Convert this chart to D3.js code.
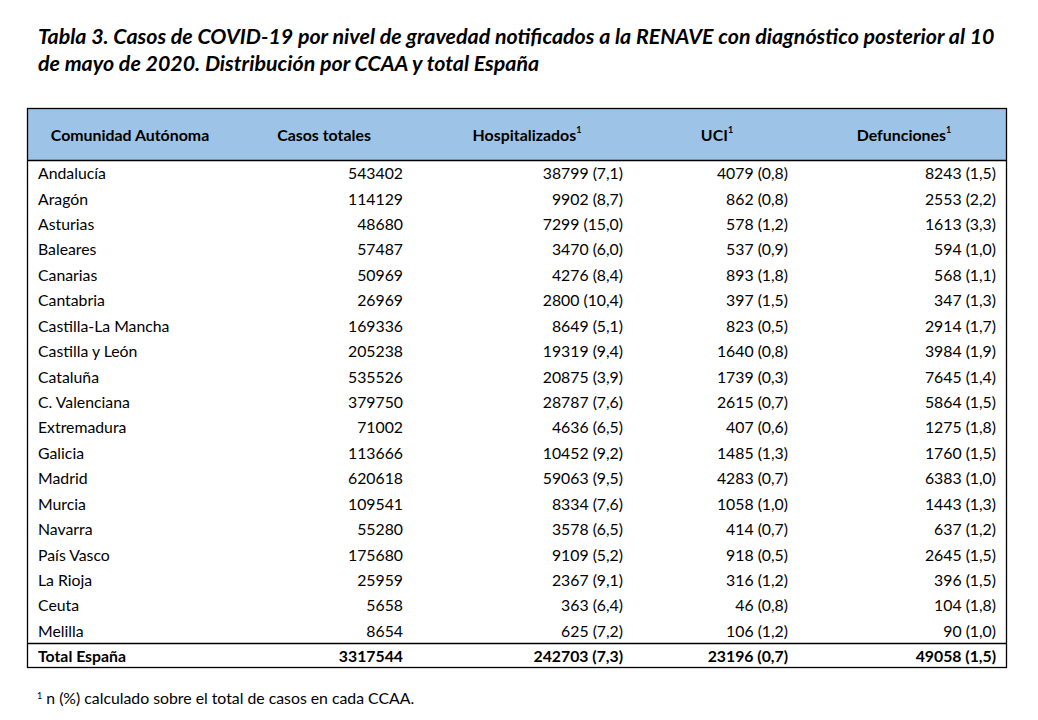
<!DOCTYPE html>
<html><head><meta charset="utf-8">
<script src="https://cdn.jsdelivr.net/npm/d3@7"></script>
<style>
body{margin:0;background:#fff;}
svg{display:block;font-family:Lato,"Open Sans",sans-serif;}
</style></head>
<body><svg id="c" width="1038" height="720"></svg>
<script>
const titleLines = [
  "Tabla 3. Casos de COVID-19 por nivel de gravedad notificados a la RENAVE con diagnóstico posterior al 10",
  "de mayo de 2020. Distribución por CCAA y total España"
];
const headers = ["Comunidad Autónoma", "Casos totales", "Hospitalizados¹", "UCI¹", "Defunciones¹"];
const regions = ["Andalucía","Aragón","Asturias","Baleares","Canarias","Cantabria","Castilla-La Mancha","Castilla y León","Cataluña","C. Valenciana","Extremadura","Galicia","Madrid","Murcia","Navarra","País Vasco","La Rioja","Ceuta","Melilla"];
const casos = [543402,114129,48680,57487,50969,26969,169336,205238,535526,379750,71002,113666,620618,109541,55280,175680,25959,5658,8654];
const hosp = [38799,9902,7299,3470,4276,2800,8649,19319,20875,28787,4636,10452,59063,8334,3578,9109,2367,363,625];
const hospPct = [7.1,8.7,15.0,6.0,8.4,10.4,5.1,9.4,3.9,7.6,6.5,9.2,9.5,7.6,6.5,5.2,9.1,6.4,7.2];
const uci = [4079,862,578,537,893,397,823,1640,1739,2615,407,1485,4283,1058,414,918,316,46,106];
const uciPct = [0.8,0.8,1.2,0.9,1.8,1.5,0.5,0.8,0.3,0.7,0.6,1.3,0.7,1.0,0.7,0.5,1.2,0.8,1.2];
const defs = [8243,2553,1613,594,568,347,2914,3984,7645,5864,1275,1760,6383,1443,637,2645,396,104,90];
const defPct = [1.5,2.2,3.3,1.0,1.1,1.3,1.7,1.9,1.4,1.5,1.8,1.5,1.0,1.3,1.2,1.5,1.5,1.8,1.0];
const totalLabel = "Total España";
const totals = {casos:3317544, hosp:242703, hospPct:7.3, uci:23196, uciPct:0.7, defs:49058, defPct:1.5};
const footnote = "n (%) calculado sobre el total de casos en cada CCAA.";

const pct = v => v.toFixed(1).replace(".", ",");
const np = (n, p) => `${n} (${pct(p)})`;

const rows = regions.map((r, i) => ({
  label: r, cells: [String(casos[i]), np(hosp[i], hospPct[i]), np(uci[i], uciPct[i]), np(defs[i], defPct[i])], bold:false
}));
const totalRow = {label: totalLabel, cells:[String(totals.casos), np(totals.hosp, totals.hospPct), np(totals.uci, totals.uciPct), np(totals.defs, totals.defPct)], bold:true};
const allRows = rows.concat([totalRow]);

const svg = d3.select("#c");
const L = 27.5, R = 1006.5, T = 108.5, HB = 160.5, TB = 643.5, B = 667.5;
const FS = 15.8;

// Title
svg.append("g").selectAll("text").data(titleLines).join("text")
  .attr("x", 38).attr("y", (d, i) => 44 + i * 27)
  .attr("font-size", 21.4).attr("font-weight", "bold").attr("font-style", "italic")
  .attr("fill", "#000").text(d => d);

// Header background
svg.append("rect").attr("x", L).attr("y", T).attr("width", R - L).attr("height", HB - T).attr("fill", "#9DC3E6");

// header texts
const headerCenters = [130, 324, 527, 717, 904];
svg.append("g").selectAll("text").data(headers).join("text")
  .attr("x", (d, i) => headerCenters[i]).attr("y", (T + HB) / 2 - 0.5)
  .attr("text-anchor", "middle").attr("dominant-baseline", "central")
  .attr("font-size", 15.9).attr("font-weight", "bold").attr("fill", "#000")
  .each(function(d){
    const t = d3.select(this);
    if (d.endsWith("¹")) {
      t.append("tspan").text(d.slice(0, -1));
      t.append("tspan").attr("font-size", 9).attr("dy", -5).text("1");
    } else t.text(d);
  });

// rows
const y = d3.scaleBand().domain(d3.range(regions.length)).range([HB, TB]);
const colRight = [403, 623, 788, 996];
const rg = svg.append("g").selectAll("g").data(allRows).join("g")
  .attr("transform", (d, i) => `translate(0,${i < regions.length ? y(i) + y.bandwidth() / 2 - 0.5 : (TB + B) / 2})`);
rg.append("text").attr("x", 38).attr("dominant-baseline", "central")
  .attr("font-size", FS).attr("font-weight", d => d.bold ? "bold" : "normal").text(d => d.label);
rg.selectAll("text.v").data(d => d.cells.map(c => ({c, bold:d.bold}))).join("text").attr("class", "v")
  .attr("x", (d, i) => colRight[i]).attr("text-anchor", "end").attr("dominant-baseline", "central")
  .attr("font-size", FS).attr("font-weight", d => d.bold ? "bold" : "normal").text(d => d.c);

// borders
svg.append("rect").attr("x", L).attr("y", T).attr("width", R - L).attr("height", B - T)
  .attr("fill", "none").attr("stroke", "#000").attr("stroke-width", 1.3);
svg.append("line").attr("x1", L).attr("x2", R).attr("y1", HB).attr("y2", HB).attr("stroke", "#000").attr("stroke-width", 1.3);
svg.append("line").attr("x1", L).attr("x2", R).attr("y1", TB).attr("y2", TB).attr("stroke", "#000").attr("stroke-width", 1.3);

// footnote
const fn = svg.append("text").attr("x", 37).attr("y", 704).attr("font-size", FS);
fn.append("tspan").attr("font-size", 9).attr("dy", -5).text("1");
fn.append("tspan").attr("dy", 5).text(" " + footnote);
</script></body></html>
